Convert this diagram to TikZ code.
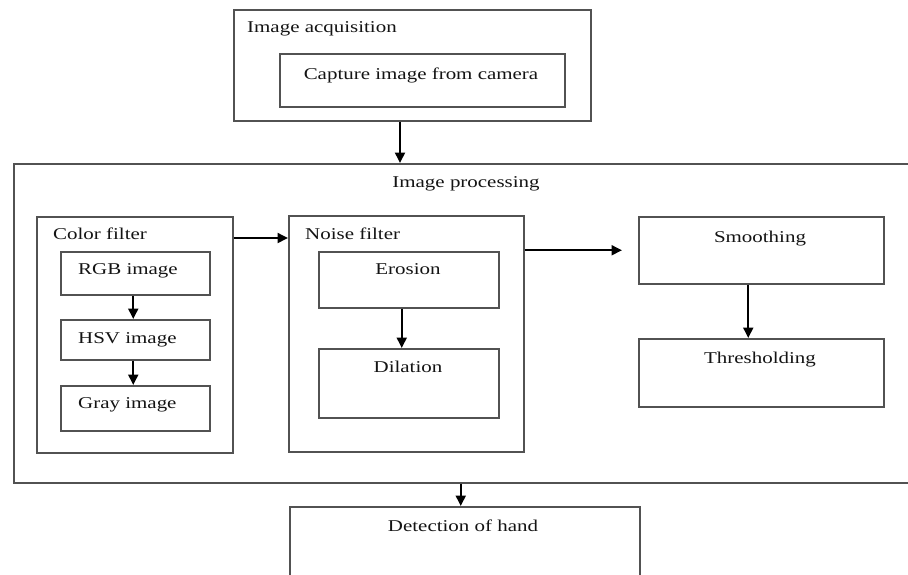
\documentclass[tikz,border=0pt]{standalone}
\usepackage{fontspec}
\setmainfont{Liberation Serif}
\usepackage{graphicx}
\usetikzlibrary{arrows.meta,calc}
\newcommand{\hstr}[1]{\scalebox{1.27}[1]{#1}}
\begin{document}
\begin{tikzpicture}[x=1pt,y=-1pt,
  box/.style={draw=black!68, line width=1.5pt, inner sep=0pt, anchor=north west},
  txt/.style={inner sep=0pt, text=black!92, font=\fontsize{16.5}{20}\selectfont},
  arr/.style={draw=black, line width=1.9pt, -{Triangle[length=10.5pt,width=10pt]}}]
\useasboundingbox[fill=white] (0,0) rectangle (908,574);
% boxes
\node[box, minimum width=357pt, minimum height=111pt] (acq) at (233,9) {};
\node[box, minimum width=285pt, minimum height=53pt] (cap) at (279,53) {};
\node[box, minimum width=905pt, minimum height=319pt] (proc) at (13,163) {};
\node[box, minimum width=196pt, minimum height=236pt] (cf) at (36,216) {};
\node[box, minimum width=149pt, minimum height=43pt] (rgb) at (60,251) {};
\node[box, minimum width=149pt, minimum height=40pt] (hsv) at (60,319) {};
\node[box, minimum width=149pt, minimum height=45pt] (gray) at (60,385) {};
\node[box, minimum width=235pt, minimum height=236pt] (nf) at (288,215) {};
\node[box, minimum width=180pt, minimum height=56pt] (ero) at (318,251) {};
\node[box, minimum width=180pt, minimum height=69pt] (dil) at (318,348) {};
\node[box, minimum width=245pt, minimum height=67pt] (sm) at (638,216) {};
\node[box, minimum width=245pt, minimum height=68pt] (th) at (638,338) {};
\node[box, minimum width=350pt, minimum height=90pt] (det) at (289,506) {};
% labels
\node[txt, anchor=base west] (tacq) at (247,32) {\hstr{Image acquisition}};
\node[txt, anchor=base] (tcap) at (421,79) {\hstr{Capture image from camera}};
\node[txt, anchor=base] (tproc) at (466,187) {\hstr{Image processing}};
\node[txt, anchor=base west] (tcf) at (53,239) {\hstr{Color filter}};
\node[txt, anchor=base west] (trgb) at (78,274) {\hstr{RGB image}};
\node[txt, anchor=base west] (thsv) at (78,343) {\hstr{HSV image}};
\node[txt, anchor=base west] (tgray) at (78,408) {\hstr{Gray image}};
\node[txt, anchor=base west] (tnf) at (305,239) {\hstr{Noise filter}};
\node[txt, anchor=base] (tero) at (408,274) {\hstr{Erosion}};
\node[txt, anchor=base] (tdil) at (408,372) {\hstr{Dilation}};
\node[txt, anchor=base] (tsm) at (760,242) {\hstr{Smoothing}};
\node[txt, anchor=base] (tth) at (760,363) {\hstr{Thresholding}};
\node[txt, anchor=base] (tdet) at (463,531) {\hstr{Detection of hand}};
% connectors
\draw[arr] ([xshift=167pt]acq.south west) -- ([xshift=167pt]acq.south west |- proc.north);
\draw[arr] ([xshift=-2pt]rgb.south) -- ([xshift=-2pt]hsv.north);
\draw[arr] ([xshift=-2pt]hsv.south) -- ([xshift=-2pt]gray.north);
\draw[arr] ([yshift=-22pt]cf.north east) -- ([yshift=-22pt]cf.north east -| nf.west);
\draw[arr] ([xshift=-7pt]ero.south) -- ([xshift=-7pt]dil.north);
\draw[arr] (nf.east |- sm.west) -- ([xshift=-16pt]sm.west);
\draw[arr] ([xshift=-13pt]sm.south) -- ([xshift=-13pt]th.north);
\draw[arr] ([xshift=-4pt]det.north |- proc.south) -- ([xshift=-4pt]det.north);
\end{tikzpicture}
\end{document}
